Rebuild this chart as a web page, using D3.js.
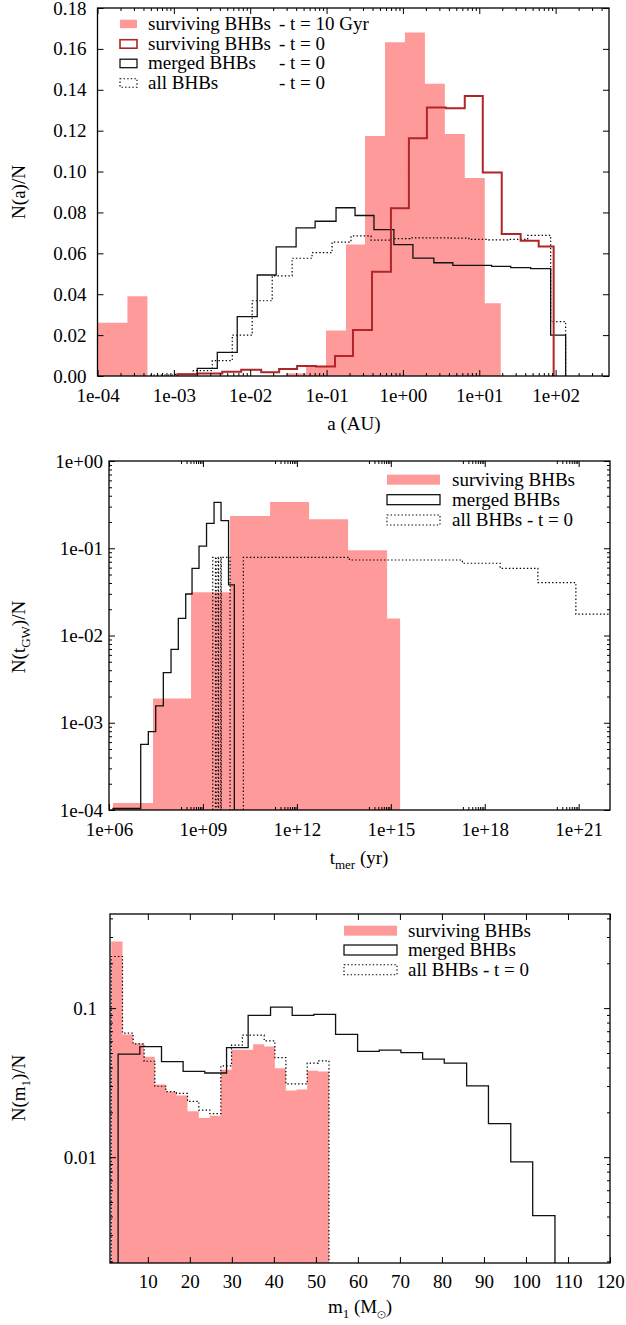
<!DOCTYPE html>
<html>
<head>
<meta charset="utf-8">
<script src="https://cdn.jsdelivr.net/npm/d3@7"></script>
<style>
  html, body { margin: 0; padding: 0; background: #fff; }
  svg { display: block; }
  svg text { font-family: "Liberation Serif", "Nimbus Roman", "Nimbus Roman No9 L", "Times New Roman", Times, Tinos, FreeSerif, "Noto Serif", "DejaVu Serif", serif; font-size: 19px; fill: #000; }
</style>
</head>
<body>
<svg id="chart" width="626" height="1325"></svg>
<script>
// ---------- Panel 1: semi-major axis distribution, bin edges in log10(a / AU) ----------
const aSurv10EdgesExp = [-4.0, -3.608, -3.346, -1.529, -1.268, -1.007, -0.745, -0.497, -0.235, 0.026, 0.288, 0.549, 0.810, 1.072, 1.281];
const aSurv10Values   = [0.026, 0.039, 0, 0.0014, 0.0049, 0.0222, 0.0643, 0.1174, 0.1632, 0.168, 0.143, 0.1184, 0.0968, 0.0356];

const aSurv0EdgesExp = [-2.954, -2.693, -2.366, -2.118, -1.856, -1.621, -1.386, -1.137, -0.889, -0.654, -0.405, -0.157, 0.078, 0.314, 0.562, 0.810, 1.046, 1.294, 1.542, 1.778, 1.974];
const aSurv0Values   = [0.0008, 0.0012, 0.0021, 0.003, 0.0018, 0.0034, 0.0049, 0.0046, 0.0098, 0.0225, 0.051, 0.082, 0.1163, 0.1313, 0.131, 0.137, 0.0995, 0.0695, 0.0662, 0.0634];

const aMergedEdgesExp = [-2.954, -2.693, -2.431, -2.170, -1.908, -1.660, -1.399, -1.150, -0.876, -0.627, -0.379, -0.118, 0.131, 0.405, 0.654, 0.902, 1.163, 1.412, 1.673, 1.935, 2.131];
const aMergedValues   = [0.0008, 0.0037, 0.0116, 0.029, 0.0494, 0.0632, 0.0725, 0.0757, 0.0823, 0.0785, 0.0716, 0.0643, 0.0577, 0.0554, 0.0541, 0.0541, 0.0536, 0.053, 0.0525, 0.020];

const aAllEdgesExp = [-3.3, -2.993, -2.745, -2.497, -2.235, -1.974, -1.712, -1.451, -1.190, -0.928, -0.680, -0.418, -0.157, 0.092, 0.353, 0.614, 0.863, 1.124, 1.373, 1.634, 1.935, 2.131];
const aAllValues   = [0.0005, 0.0008, 0.0026, 0.0075, 0.020, 0.0368, 0.049, 0.0576, 0.0603, 0.0655, 0.0685, 0.0665, 0.0672, 0.0676, 0.0676, 0.0674, 0.0668, 0.0666, 0.0668, 0.0688, 0.0266];

const aXTicks      = [1e-4, 1e-3, 1e-2, 1e-1, 1, 10, 100];
const aXTickLabels = ["1e-04", "1e-03", "1e-02", "1e-01", "1e+00", "1e+01", "1e+02"];
const aYTicks      = [0, 0.02, 0.04, 0.06, 0.08, 0.10, 0.12, 0.14, 0.16, 0.18];
const aYTickLabels = ["0.00", "0.02", "0.04", "0.06", "0.08", "0.10", "0.12", "0.14", "0.16", "0.18"];

// ---------- Panel 2: merger-time distribution, bin edges in log10(t / yr) ----------
const tSurvEdgesExp = [6.128, 7.406, 8.62, 9.866, 11.144, 12.39, 13.636, 14.882, 15.297];
const tSurvValues   = [1.2e-4, 1.9e-3, 0.0313, 0.234, 0.339, 0.215, 0.095, 0.0157];

const tMergedEdgesExp = [6.128, 7.013, 7.256, 7.492, 7.735, 7.981, 8.214, 8.450, 8.652, 8.875, 9.115, 9.355, 9.578, 9.818, 10.003];
const tMergedValues   = [1.04e-4, 5.66e-4, 7.9e-4, 1.56e-3, 3.75e-3, 6.95e-3, 0.0157, 0.0299, 0.0589, 0.106, 0.193, 0.336, 0.207, 0.038];

const tAllEdgesExp = [9.313, 9.40, 9.42, 9.485, 9.50, 9.57, 9.585, 9.866, 10.291, 13.677, 17.287, 18.492, 19.696, 20.91, 22.3];
const tAllValues   = [0.0787, 0, 0.0787, 0, 0.0787, 0, 0.0787, 0, 0.0787, 0.0733, 0.0673, 0.0589, 0.0403, 0.0176];

const tXTicks      = [1e6, 1e9, 1e12, 1e15, 1e18, 1e21];
const tXTickLabels = ["1e+06", "1e+09", "1e+12", "1e+15", "1e+18", "1e+21"];
const tYTicks      = [1e-4, 1e-3, 1e-2, 1e-1, 1];
const tYTickLabels = ["1e-04", "1e-03", "1e-02", "1e-01", "1e+00"];

// ---------- Panel 3: primary mass distribution, bin edges in M_sun ----------
const mSurvEdges = [1.3, 3.98, 6.5, 9.12, 11.67, 14.29, 16.83, 19.45, 22.14, 24.76, 27.38, 29.93, 32.5, 35.07, 37.69, 40.24, 42.86, 45.4, 47.93, 50.55, 53.12];
const mSurvValues = [0.28, 0.0665, 0.0578, 0.0471, 0.0307, 0.0275, 0.0259, 0.0203, 0.0183, 0.019, 0.0386, 0.0525, 0.0525, 0.0573, 0.0552, 0.0395, 0.028, 0.0284, 0.038, 0.0375];
const mAllValues  = [0.222, 0.068, 0.0575, 0.044, 0.0299, 0.0275, 0.0268, 0.0237, 0.0207, 0.0196, 0.041, 0.0564, 0.0658, 0.0658, 0.0603, 0.0466, 0.031, 0.031, 0.0428, 0.0443];

const mMergedEdges  = [2.93, 8.1, 13.26, 18.4, 23.57, 28.74, 33.88, 39.21, 44.36, 49.52, 54.69, 59.93, 65.07, 70.24, 75.4, 80.55, 85.88, 91.07, 96.38, 101.6, 106.9];
const mMergedValues = [0.0491, 0.0552, 0.0437, 0.0376, 0.0367, 0.0543, 0.0894, 0.1016, 0.0894, 0.0908, 0.0667, 0.0512, 0.0522, 0.0503, 0.0455, 0.0428, 0.0301, 0.0168, 0.0093, 0.00405];

const mXTicks      = [10, 20, 30, 40, 50, 60, 70, 80, 90, 100, 110, 120];
const mXTickLabels = ["10", "20", "30", "40", "50", "60", "70", "80", "90", "100", "110", "120"];
const mYTicks      = [0.01, 0.1];
const mYTickLabels = ["0.01", "0.1"];

// ---------- styling ----------
const PINK = "#ff9a9a";
const DARKRED = "#b02525";
const DOTS = "1.4,2.2";

const svg = d3.select("#chart");

function toBins(edges, values, fromExp) {
  const conv = fromExp ? e => Math.pow(10, e) : e => e;
  return values.map((v, i) => ({ x0: conv(edges[i]), x1: conv(edges[i + 1]), v }));
}

// outline of a histogram drawn as a step line, starting and ending on the baseline
function stepPath(bins, x, y) {
  const base = y.range()[0];
  const yv = v => (v > 0 ? y(v) : base);
  let d = `M${x(bins[0].x0)},${base}`;
  bins.forEach(b => { d += `V${yv(b.v)}H${x(b.x1)}`; });
  return d + `V${base}`;
}

// log minor ticks 2..9 inside a domain
function logMinor(lo, hi, decades) {
  const out = [];
  decades.forEach(p => {
    for (let k = 2; k <= 9; k++) {
      const v = k * Math.pow(10, p);
      if (v > lo && v < hi) out.push(v);
    }
  });
  return out;
}

function cleanAxis(sel) {
  sel.attr("font-family", null).attr("font-size", null);
  sel.select(".domain").remove();
  sel.selectAll("line").attr("stroke-width", 1);
}

function drawAxes(g, x, y, o) {
  const [L, R] = x.range();
  const [B, T] = y.range();
  const M = 6, m = 3;
  g.append("g").attr("transform", `translate(0,${B})`)
    .call(d3.axisBottom(x).tickValues(o.xTicks).tickFormat((d, i) => o.xLabels[i])
      .tickSizeInner(-M).tickSizeOuter(0).tickPadding(o.xPad)).call(cleanAxis);
  g.append("g").attr("transform", `translate(0,${T})`)
    .call(d3.axisTop(x).tickValues(o.xTicks).tickFormat("").tickSizeInner(-M).tickSizeOuter(0)).call(cleanAxis);
  if (o.xMinor) {
    g.append("g").attr("transform", `translate(0,${B})`)
      .call(d3.axisBottom(x).tickValues(o.xMinor).tickFormat("").tickSizeInner(-m).tickSizeOuter(0)).call(cleanAxis);
    g.append("g").attr("transform", `translate(0,${T})`)
      .call(d3.axisTop(x).tickValues(o.xMinor).tickFormat("").tickSizeInner(-m).tickSizeOuter(0)).call(cleanAxis);
  }
  g.append("g").attr("transform", `translate(${L},0)`)
    .call(d3.axisLeft(y).tickValues(o.yTicks).tickFormat((d, i) => o.yLabels[i])
      .tickSizeInner(-M).tickSizeOuter(0).tickPadding(o.yPad)).call(cleanAxis);
  g.append("g").attr("transform", `translate(${R},0)`)
    .call(d3.axisRight(y).tickValues(o.yTicks).tickFormat("").tickSizeInner(-M).tickSizeOuter(0)).call(cleanAxis);
  if (o.yMinor) {
    g.append("g").attr("transform", `translate(${L},0)`)
      .call(d3.axisLeft(y).tickValues(o.yMinor).tickFormat("").tickSizeInner(-m).tickSizeOuter(0)).call(cleanAxis);
    g.append("g").attr("transform", `translate(${R},0)`)
      .call(d3.axisRight(y).tickValues(o.yMinor).tickFormat("").tickSizeInner(-m).tickSizeOuter(0)).call(cleanAxis);
  }
  g.append("rect").attr("x", L).attr("y", T).attr("width", R - L).attr("height", B - T)
    .attr("fill", "none").attr("stroke", "#000").attr("stroke-width", 1.3);
}

function plotArea(id, x, y) {
  const [L, R] = x.range();
  const [B, T] = y.range();
  svg.append("clipPath").attr("id", id).append("rect")
    .attr("x", L).attr("y", T).attr("width", R - L).attr("height", B - T);
  return svg.append("g").attr("clip-path", `url(#${id})`);
}

function filledHist(g, bins, x, y) {
  g.append("path").attr("d", stepPath(bins, x, y) + "Z").attr("fill", PINK).attr("stroke", "none");
}
function lineHist(g, bins, x, y, color, width, dash) {
  g.append("path").attr("d", stepPath(bins, x, y)).attr("fill", "none")
    .attr("stroke", color).attr("stroke-width", width).attr("stroke-dasharray", dash || null);
}

function legend(g, rows, o) {
  rows.forEach((r, i) => {
    const by = o.baselines[i];
    const sw = g.append("rect").attr("x", o.sx).attr("y", by - o.sTop).attr("width", o.sw).attr("height", o.sh);
    if (r.kind === "fill") sw.attr("fill", PINK).attr("stroke", "none");
    else if (r.kind === "red") sw.attr("fill", "none").attr("stroke", DARKRED).attr("stroke-width", 1.6);
    else if (r.kind === "line") sw.attr("fill", "none").attr("stroke", "#000").attr("stroke-width", 1.2);
    else sw.attr("fill", "none").attr("stroke", "#000").attr("stroke-width", 1.1).attr("stroke-dasharray", DOTS);
    g.append("text").attr("x", o.tx).attr("y", by).text(r.label);
    if (r.suffix) g.append("text").attr("x", o.suffixX).attr("y", by).text(r.suffix);
  });
}

function title(t, parts) {
  parts.forEach(p => {
    const s = t.append("tspan").text(p.t);
    if (p.sub) s.attr("dy", 5).attr("font-size", 13);
    if (p.back) s.attr("dy", -5);
  });
}
function yTitle(cx, cy, parts) {
  title(svg.append("text").attr("transform", `translate(${cx},${cy}) rotate(-90)`).attr("text-anchor", "middle"), parts);
}
function xTitle(cx, by, parts) {
  title(svg.append("text").attr("x", cx).attr("y", by).attr("text-anchor", "middle"), parts);
}

// ================= Panel 1 =================
{
  const x = d3.scaleLog().domain([1e-4, 500]).range([97.5, 609]);
  const y = d3.scaleLinear().domain([0, 0.18]).range([376, 8]);
  const g = plotArea("clipA", x, y);
  filledHist(g, toBins(aSurv10EdgesExp, aSurv10Values, true), x, y);
  lineHist(g, toBins(aAllEdgesExp, aAllValues, true), x, y, "#000", 1.2, DOTS);
  lineHist(g, toBins(aMergedEdgesExp, aMergedValues, true), x, y, "#111", 1.3);
  lineHist(g, toBins(aSurv0EdgesExp, aSurv0Values, true), x, y, DARKRED, 2);
  drawAxes(svg.append("g"), x, y, {
    xTicks: aXTicks, xLabels: aXTickLabels, xPad: 13,
    xMinor: logMinor(1e-4, 500, [-4, -3, -2, -1, 0, 1, 2]),
    yTicks: aYTicks, yLabels: aYTickLabels, yPad: 11
  });
  legend(svg.append("g"), [
    { label: "surviving BHBs", suffix: "- t = 10 Gyr", kind: "fill" },
    { label: "surviving BHBs", suffix: "- t = 0", kind: "red" },
    { label: "merged BHBs", suffix: "- t = 0", kind: "line" },
    { label: "all BHBs", suffix: "- t = 0", kind: "dot" }
  ], { baselines: [29.5, 49.5, 69, 88.5], sx: 120, sw: 17, sTop: 9.8, sh: 8.5, tx: 148, suffixX: 279 });
  yTitle(25, 192, [{ t: "N(a)/N" }]);
  xTitle(354, 430, [{ t: "a (AU)" }]);
}

// ================= Panel 2 =================
{
  const x = d3.scaleLog().domain([1e6, 1e22]).range([109, 610]);
  const y = d3.scaleLog().domain([1e-4, 1]).range([810, 461]).clamp(true);
  const g = plotArea("clipB", x, y);
  filledHist(g, toBins(tSurvEdgesExp, tSurvValues, true), x, y);
  lineHist(g, toBins(tAllEdgesExp, tAllValues, true), x, y, "#000", 1.2, DOTS);
  lineHist(g, toBins(tMergedEdgesExp, tMergedValues, true), x, y, "#111", 1.3);
  const minorX = [];
  [9, 12, 15, 18, 21].forEach(p => { for (let k = 2; k <= 9; k++) minorX.push(k * Math.pow(10, p - 1)); });
  drawAxes(svg.append("g"), x, y, {
    xTicks: tXTicks, xLabels: tXTickLabels, xPad: 13, xMinor: minorX,
    yTicks: tYTicks, yLabels: tYTickLabels, yPad: 6,
    yMinor: logMinor(1e-4, 1, [-4, -3, -2, -1])
  });
  legend(svg.append("g"), [
    { label: "surviving BHBs", kind: "fill" },
    { label: "merged BHBs", kind: "line" },
    { label: "all BHBs - t = 0", kind: "dot" }
  ], { baselines: [485.7, 505.7, 526], sx: 387, sw: 53, sTop: 11, sh: 10, tx: 452 });
  yTitle(25, 637, [{ t: "N(t" }, { t: "GW", sub: true }, { t: ")/N", back: true }]);
  xTitle(359, 864, [{ t: "t" }, { t: "mer", sub: true }, { t: " (yr)", back: true }]);
}

// ================= Panel 3 =================
{
  const x = d3.scaleLinear().domain([1, 120]).range([110, 610]);
  const y = d3.scaleLog().domain([0.00195, 0.428]).range([1263, 914]).clamp(true);
  const g = plotArea("clipC", x, y);
  filledHist(g, toBins(mSurvEdges, mSurvValues, false), x, y);
  lineHist(g, toBins(mSurvEdges, mAllValues, false), x, y, "#000", 1.2, DOTS);
  lineHist(g, toBins(mMergedEdges, mMergedValues, false), x, y, "#111", 1.3);
  drawAxes(svg.append("g"), x, y, {
    xTicks: mXTicks, xLabels: mXTickLabels, xPad: 12,
    yTicks: mYTicks, yLabels: mYTickLabels, yPad: 13,
    yMinor: logMinor(0.00195, 0.428, [-3, -2, -1])
  });
  legend(svg.append("g"), [
    { label: "surviving BHBs", kind: "fill" },
    { label: "merged BHBs", kind: "line" },
    { label: "all BHBs - t = 0", kind: "dot" }
  ], { baselines: [936.7, 956, 975.7], sx: 344, sw: 53, sTop: 11, sh: 10, tx: 408 });
  yTitle(25, 1088, [{ t: "N(m" }, { t: "1", sub: true }, { t: ")/N", back: true }]);
  xTitle(360, 1313, [{ t: "m" }, { t: "1", sub: true }, { t: " (M", back: true }, { t: "\u2299", sub: true }, { t: ")", back: true }]);
}
</script>
</body>
</html>
